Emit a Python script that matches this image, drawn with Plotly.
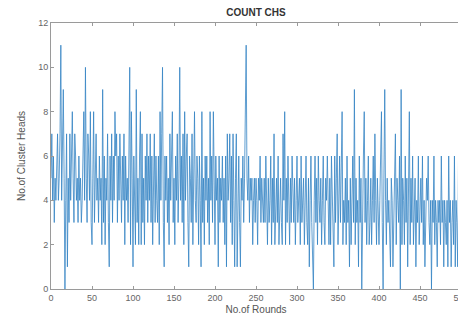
import plotly.graph_objects as go

rounds = list(range(0, 500))
count_chs = [
    5,7,4,6,3,5,4,6,7,4,
    5,7,11,4,6,9,5,0,4,7,
    1,5,3,7,4,6,8,5,3,7,
    6,4,5,3,6,4,5,3,4,6,
    8,4,10,5,3,7,6,4,8,3,
    2,5,8,3,6,7,4,5,3,6,
    4,5,2,9,3,6,2,5,4,7,
    3,1,6,4,7,3,6,4,8,6,
    7,3,6,4,7,5,3,6,4,7,
    2,6,4,5,3,6,10,2,8,5,
    1,6,4,2,9,3,5,2,6,8,
    2,7,3,5,2,6,4,7,3,6,
    4,7,3,6,2,5,7,3,6,4,
    3,6,2,8,4,7,10,3,1,6,
    4,6,3,5,2,7,4,6,8,3,
    5,2,6,4,7,3,5,10,4,6,
    3,7,2,8,4,6,7,3,1,6,
    5,3,7,2,6,8,4,3,6,5,
    2,6,4,1,8,3,5,2,6,4,
    6,3,5,2,8,4,6,3,8,5,
    2,6,4,5,1,6,3,5,4,6,
    3,5,2,6,1,7,4,5,7,3,
    6,2,7,4,1,5,7,1,4,6,
    3,1,5,4,6,3,5,8,11,5,
    4,6,3,5,4,5,2,4,5,3,
    5,4,2,5,4,6,3,5,4,3,
    5,3,6,4,2,5,3,4,6,2,
    5,3,7,2,4,5,3,6,2,4,
    5,3,2,7,4,8,2,5,3,6,
    4,2,5,3,6,4,3,5,2,4,
    6,3,4,5,2,6,3,4,5,2,
    4,6,3,2,5,1,4,6,3,1,
    0,4,6,3,5,2,6,4,3,5,
    2,4,6,3,2,5,4,6,3,2,
    5,2,6,4,3,1,6,3,5,7,
    2,4,6,3,5,8,2,4,3,5,
    2,6,3,4,1,5,2,4,6,3,
    9,2,5,3,4,1,6,3,5,0,
    4,6,8,3,5,2,4,6,2,3,
    5,2,4,6,3,7,4,2,5,3,
    2,4,6,8,3,0,5,9,4,2,
    5,3,4,2,1,5,4,1,3,6,
    7,2,5,4,3,6,0,9,2,5,
    4,2,6,3,5,1,4,8,2,5,
    3,6,2,4,5,1,4,3,6,2,
    4,5,3,6,2,4,1,3,5,4,
    6,3,2,4,0,4,3,6,2,4,
    3,1,4,3,4,2,6,3,4,1,
    4,3,2,4,1,6,3,4,1,3,
    4,2,6,1,4,3,1,6,4,2,
]

x_ticks = [0, 50, 100, 150, 200, 250, 300, 350, 400, 450, 500]
y_ticks = [0, 2, 4, 6, 8, 10, 12]

fig = go.Figure()
fig.add_trace(go.Scatter(
    x=rounds, y=count_chs, mode="lines",
    line=dict(color="#3584c4", width=0.8),
    showlegend=False,
))

axis_common = dict(
    showgrid=False, zeroline=False, automargin=False,
    showline=True, linecolor="#9a9a9a", linewidth=1,
    mirror="ticks", ticks="inside", ticklen=3, tickcolor="#9a9a9a",
    ticklabeloverflow="allow",
    tickfont=dict(family="Liberation Sans", size=9, color="#666666"),
)

# page body has an 8px margin, so the figure is sized/offset to compensate
fig.update_layout(
    width=458, height=312,
    paper_bgcolor="white", plot_bgcolor="white",
    margin=dict(l=43, r=5, t=15, b=31),
    title=dict(text="<b>COUNT CHS</b>", xref="paper", x=0.5, xanchor="center",
               y=0.985, yanchor="middle",
               font=dict(family="Liberation Sans", size=10, color="#333333")),
    xaxis=dict(range=[0, 500], tickvals=x_ticks,
               title=dict(text="No.of Rounds", standoff=4,
                          font=dict(family="Liberation Sans", size=10, color="#555555")),
               **axis_common),
    yaxis=dict(range=[0, 12], tickvals=y_ticks,
               title=dict(text="No.of Cluster Heads", standoff=10,
                          font=dict(family="Liberation Sans", size=10, color="#555555")),
               **axis_common),
)

fig.write_html("out.html")
